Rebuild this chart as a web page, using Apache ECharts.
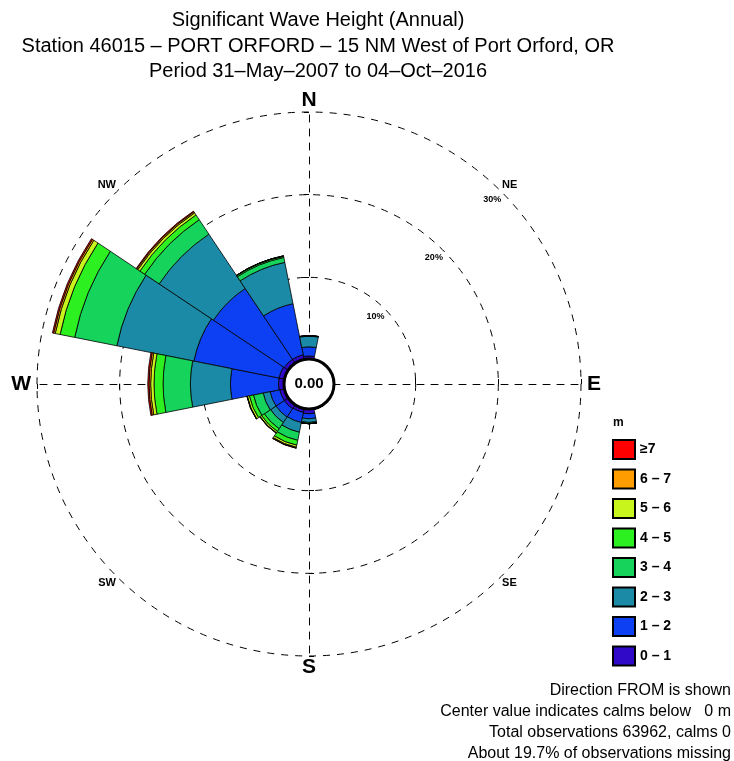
<!DOCTYPE html>
<html><head><meta charset="utf-8">
<script src="https://cdn.jsdelivr.net/npm/echarts@6/dist/echarts.min.js"></script>
<style>html,body{margin:0;padding:0;background:#fff}#c{width:734px;height:761px}</style>
</head><body><div id="c"></div>
<script>
// ---- data (percent of observations, direction FROM) ----
const directions = ['N','NNE','NE','ENE','E','ESE','SE','SSE','S','SSW','SW','WSW','W','WNW','NW','NNW'];
const bandNames  = ['0 – 1','1 – 2','2 – 3','3 – 4','4 – 5','5 – 6','6 – 7','≥7'];
const bandColors = ['#3008c8','#0c40f2','#1b8aa6','#16d35c','#2cf020','#c8f51c','#ff9c00','#ff0000'];
const band0_1 = [0.5,0.1,0.1,0.05,0.05,0.05,0.1,0.2,0.7,0.6,0.7,0.7,0.8,0.8,0.7,0.7];
const band1_2 = [1.1,0,0,0,0,0,0,0,0.6,1.25,1.2,1.2,5.8,10.5,10.3,6.3];
const band2_3 = [1.3,0,0,0,0,0,0,0,0.45,1.2,0.8,0.85,4.85,9.5,7.9,5.1];
const band3_4 = [0.05,0,0,0,0,0,0,0,0.15,1.0,0.9,1.2,3.3,5.2,2.1,0.6];
const band4_5 = [0,0,0,0,0,0,0,0,0,0.6,0.4,0.5,1.1,1.8,0.7,0.15];
const band5_6 = [0,0,0,0,0,0,0,0,0,0.25,0.2,0.25,0.4,0.6,0.3,0.05];
const band6_7 = [0,0,0,0,0,0,0,0,0,0.1,0.05,0.05,0.2,0.2,0.15,0];
const band7up = [0,0,0,0,0,0,0,0,0,0.03,0,0,0.15,0.15,0.1,0];
const bands = [band0_1,band1_2,band2_3,band3_4,band4_5,band5_6,band6_7,band7up];
const ringTicks = [0,10,20,30];          // percent rings
const bigNS = ['N','S'];
const bigEW = ['E','W'];
const smallLabels = ['NE','SE','SW','NW'];
const calmValue = 0.00;
const titleLines = ['Significant Wave Height (Annual)',
  'Station 46015 – PORT ORFORD – 15 NM West of Port Orford, OR',
  'Period 31–May–2007 to 04–Oct–2016'];
const noteLines = ['Direction FROM is shown',
  'Center value indicates calms below   0 m',
  'Total observations 63962, calms 0',
  'About 19.7% of observations missing'];

// ---- layout ----
const FONT = 'Liberation Sans, Arial, Helvetica, sans-serif';
const CX = 309, CY = 384, R0 = 24, R1 = 272;
const rMax = ringTicks[ringTicks.length-1], rStep = ringTicks[1]-ringTicks[0];
const dash = [7,7];

const polar = [], angleAxis = [], radiusAxis = [];
// main polar (bars, rings, compass labels)
polar.push({center:[CX,CY], radius:[R0,R1]});
angleAxis.push({polarIndex:0, type:'category', data:directions, startAngle:90+360/directions.length/2,
  clockwise:true, boundaryGap:true, axisLine:{show:false}, axisTick:{show:false}, splitLine:{show:false},
  axisLabel:{interval:0, margin:1, color:'#000', fontFamily:FONT,
    formatter: v => bigNS.includes(v) ? '{ns|'+v+'}' : bigEW.includes(v) ? '{ew|'+v+'}' :
      (smallLabels.includes(v) ? '{small|'+v+'}' : ''),
    rich:{ns:{fontSize:21,fontWeight:'bold',fontFamily:FONT,color:'#000'},
          ew:{fontSize:21,fontWeight:'bold',fontFamily:FONT,color:'#000',padding:[0,5,0,5]},
          small:{fontSize:11,fontWeight:'bold',fontFamily:FONT,color:'#000'}}}});
radiusAxis.push({polarIndex:0, min:0, max:rMax, interval:rStep, axisLine:{show:false}, axisTick:{show:false},
  axisLabel:{show:false}, splitLine:{show:true, lineStyle:{color:'#000', type:dash, width:1}}});
// spokes N,E,S,W with tick crosses
const spokeAngles = [90,0,270,180];
[false,true].forEach(inside => {
  spokeAngles.forEach(a => {
    const idx = polar.length;
    polar.push({center:[CX,CY], radius:[R0,R1]});
    angleAxis.push({polarIndex:idx, type:'value', min:0, max:360, startAngle:a, show:false});
    radiusAxis.push({polarIndex:idx, min:0, max:rMax, interval:rStep,
      axisLine:{show:!inside, lineStyle:{color:'#000', type:dash, width:1}},
      axisTick:{show:true, inside:inside, length:5, lineStyle:{color:'#000', width:1}},
      axisLabel:{show:false}, splitLine:{show:false}});
  });
});
// percent labels along NE
{
  const idx = polar.length;
  polar.push({center:[CX,CY], radius:[R0,R1]});
  angleAxis.push({polarIndex:idx, type:'value', min:0, max:360, startAngle:45, show:false});
  radiusAxis.push({polarIndex:idx, min:0, max:rMax, interval:rStep, axisLine:{show:false}, axisTick:{show:false},
    splitLine:{show:false},
    axisLabel:{show:true, showMinLabel:false, margin:0, align:'right', verticalAlign:'top',
      padding:[3,0,0,0], formatter:'{value}%', fontSize:9, fontWeight:'bold', color:'#000', fontFamily:FONT}});
}

const series = bands.map((vals,i) => ({
  type:'bar', name:bandNames[i], coordinateSystem:'polar', polarIndex:0, stack:'rose',
  data: vals, barCategoryGap:'0%', silent:true,
  itemStyle:{color:bandColors[i], borderColor:'#000', borderWidth:0.8}
}));
series.push({type:'pie', name:'calm', center:[CX,CY], radius:25, silent:true, z:10, legendHoverLink:false,
  data:[{value:1, name:'calm'}], labelLine:{show:false},
  label:{show:true, position:'center', formatter: calmValue.toFixed(2), fontSize:15, fontWeight:'bold',
    color:'#000', fontFamily:FONT},
  itemStyle:{color:'#fff', borderColor:'#000', borderWidth:3}});

const chart = echarts.init(document.getElementById('c'), null, {renderer:'canvas'});
chart.setOption({
  animation:false,
  backgroundColor:'#fff',
  title:[
    {text:titleLines.join('\n'), left:313, top:3, textAlign:'center',
     textStyle:{fontSize:20, fontWeight:'normal', lineHeight:25.5, color:'#000', fontFamily:FONT}},
    {text:noteLines.join('\n'), left:726, top:675, textAlign:'right',
     textStyle:{fontSize:16, fontWeight:'normal', lineHeight:21, color:'#000', fontFamily:FONT}},
    {text:'m', left:608, top:412, textStyle:{fontSize:12, fontWeight:'bold', color:'#000', fontFamily:FONT}}
  ],
  legend:{orient:'vertical', left:607, top:434, itemWidth:22, itemHeight:19, itemGap:8.5,
    data: bandNames.slice().reverse(), icon:'rect', selectedMode:false,
    textStyle:{fontSize:14, fontWeight:'bold', color:'#000', fontFamily:FONT}},
  polar, angleAxis, radiusAxis, series
});
</script></body></html>
